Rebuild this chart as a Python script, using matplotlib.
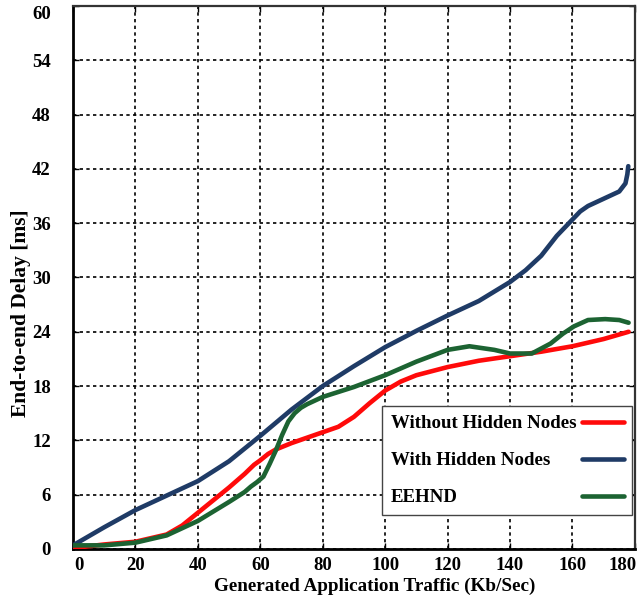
"""
End-to-end delay vs generated application traffic, three scenarios.
"""

import matplotlib

matplotlib.use("Agg")
import matplotlib.pyplot as plt
import matplotlib.transforms as mtransforms

# ---------------------------------------------------------------------------
# Data
# ---------------------------------------------------------------------------

x_ticks = [0, 20, 40, 60, 80, 100, 120, 140, 160, 180]
y_ticks = [0, 6, 12, 18, 24, 30, 36, 42, 48, 54, 60]

without_x = [0, 10, 20, 30, 35, 40, 45, 50, 55, 58, 60, 62.5, 65, 70, 75, 80,
             85, 90, 95, 100, 105, 110, 120, 130, 140, 150, 160, 170, 178]
without_y = [0.1, 0.5, 0.8, 1.6, 2.6, 4.0, 5.4, 6.8, 8.3, 9.3, 9.8, 10.5,
             11.0, 11.7, 12.3, 12.9, 13.5, 14.6, 16.1, 17.5, 18.5, 19.2,
             20.1, 20.8, 21.3, 21.8, 22.4, 23.2, 24.0]

with_x = [0, 10, 20, 30, 40, 50, 60, 70, 80, 90, 100, 110, 120, 130, 140,
          145, 150, 155, 160, 162.5, 165, 167.5, 170, 175, 177, 177.6, 177.9]
with_y = [0.4, 2.4, 4.3, 5.9, 7.5, 9.7, 12.5, 15.4, 18.0, 20.2, 22.3, 24.1,
          25.8, 27.4, 29.5, 30.8, 32.4, 34.6, 36.4, 37.3, 37.9, 38.3, 38.7,
          39.5, 40.4, 41.4, 42.3]

eehnd_x = [0, 10, 20, 30, 40, 50, 55, 57, 59, 61, 63, 65, 67, 69, 71, 73,
           75, 80, 90, 100, 110, 120, 127, 135, 140, 147, 153, 157, 160.5,
           165, 170.5, 175, 178]
eehnd_y = [0.4, 0.4, 0.7, 1.5, 3.1, 5.2, 6.3, 6.9, 7.4, 8.0, 9.4, 10.9, 12.6,
           14.1, 15.0, 15.6, 16.0, 16.8, 17.9, 19.2, 20.7, 22.0, 22.4, 22.0,
           21.6, 21.6, 22.7, 23.8, 24.6, 25.3, 25.4, 25.3, 25.0]

series_labels = ["Without Hidden Nodes", "With Hidden Nodes", "EEHND"]
series_colors = ["#ff0a0a", "#1f3b66", "#1c6332"]

# ---------------------------------------------------------------------------
# Plot
# ---------------------------------------------------------------------------

plt.rcParams["font.family"] = ["Liberation Serif", "DejaVu Serif"]
plt.rcParams["font.weight"] = "bold"

fig = plt.figure(figsize=(6.37, 5.99), dpi=100)
ax = fig.add_axes([0.1146, 0.0835, 0.882, 0.9065])

series = [(without_x, without_y), (with_x, with_y), (eehnd_x, eehnd_y)]
for (xs, ys), label, color in zip(series, series_labels, series_colors):
    ax.plot(xs, ys, color=color, lw=3.3, label=label,
            solid_capstyle="round", solid_joinstyle="round", zorder=3)

ax.set_xlim(0, 180)
ax.set_ylim(0, 60)
ax.set_xticks(x_ticks)
ax.set_yticks(y_ticks)
ax.grid(True, color="black", linestyle=(0, (2, 2)), linewidth=1.2, zorder=1)

ax.tick_params(direction="in", length=4, width=1, top=True, right=True,
               labelsize=13.5)
ax.tick_params(axis="x", pad=6)
ax.tick_params(axis="y", pad=16)
for lbl in ax.get_xticklabels() + ax.get_yticklabels():
    lbl.set_fontweight("bold")


def _nudge(label, dx_px, dy_px):
    label.set_transform(label.get_transform() + mtransforms.ScaledTranslation(
        dx_px / 100, dy_px / 100, fig.dpi_scale_trans))


# edge labels sit inside the figure, as in the reference
xl = ax.get_xticklabels()
_nudge(xl[0], 6, 0)
_nudge(xl[-1], -12, 0)
_nudge(ax.get_yticklabels()[-1], 0, -7)

for side in ("left", "bottom"):
    ax.spines[side].set_linewidth(2)
for side in ("top", "right"):
    ax.spines[side].set_linewidth(1.6)
    ax.spines[side].set_color("#333333")

ax.set_xlabel("Generated Application Traffic (Kb/Sec)", fontsize=13.8,
              fontweight="bold")
ax.set_ylabel("End-to-end Delay [ms]", fontsize=15.5, fontweight="bold")
ax.xaxis.set_label_coords(0.537, -0.053)
ax.yaxis.set_label_coords(-0.075, 0.435)

leg = ax.legend(loc="lower right", bbox_to_anchor=(0.995, 0.063),
                borderaxespad=0, markerfirst=False, fancybox=False,
                framealpha=1, edgecolor="#444444", fontsize=13.6,
                handlelength=2.2, labelspacing=1.05, borderpad=0.45,
                handletextpad=0.3)
leg.get_frame().set_linewidth(1)
for t in leg.get_texts():
    t.set_fontweight("bold")

# text flush left, line samples flush right in every legend row
fig.canvas.draw()
renderer = fig.canvas.get_renderer()
columns = leg._legend_handle_box.get_children()
rows = [r for col in columns for r in col.get_children()]
row_w = max(r.get_bbox(renderer).width for r in rows)
for r in rows:
    r.mode = "expand"
    r.width = row_w
for col in columns:
    col.align = "left"

fig.savefig("out.png", dpi=100)
